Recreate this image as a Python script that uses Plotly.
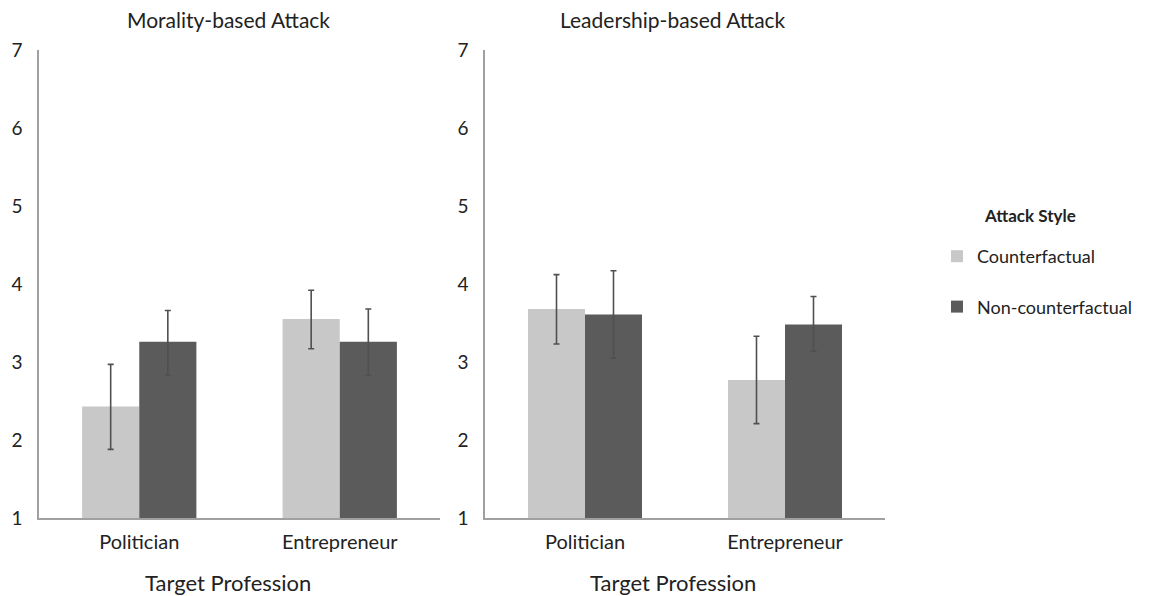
import plotly.graph_objects as go

categories = ["Politician", "Entrepreneur"]
series_names = ["Counterfactual", "Non-counterfactual"]
panel_titles = ["Morality-based Attack", "Leadership-based Attack"]
legend_title = "Attack Style"
x_title = "Target Profession"

# Morality-based Attack
moral_cf = [2.43, 3.55]
moral_cf_plus = [0.54, 0.37]
moral_cf_minus = [0.55, 0.38]
moral_ncf = [3.26, 3.26]
moral_ncf_plus = [0.40, 0.42]
moral_ncf_minus = [0.43, 0.43]

# Leadership-based Attack
lead_cf = [3.68, 2.77]
lead_cf_plus = [0.44, 0.56]
lead_cf_minus = [0.45, 0.56]
lead_ncf = [3.61, 3.48]
lead_ncf_plus = [0.56, 0.36]
lead_ncf_minus = [0.56, 0.34]

y_ticks = [1, 2, 3, 4, 5, 6, 7]

LIGHT = "#c8c8c8"
DARK = "#5b5b5b"
ERR = "#505050"
FONT = "Lato, 'Open Sans', sans-serif"
TXT = "#222222"

fig = go.Figure()

def add_bars(vals, plus, minus, name, color, xa, ya, show):
    fig.add_trace(go.Bar(
        x=categories, y=[v - 1 for v in vals], base=1, name=name,
        marker=dict(color=color, line=dict(width=0)),
        error_y=dict(type="data", array=plus, arrayminus=minus, symmetric=False,
                     color=ERR, thickness=1.6, width=3),
        xaxis=xa, yaxis=ya, showlegend=show, legendgroup=name,
    ))

add_bars(moral_cf, moral_cf_plus, moral_cf_minus, series_names[0], LIGHT, "x", "y", True)
add_bars(moral_ncf, moral_ncf_plus, moral_ncf_minus, series_names[1], DARK, "x", "y", True)
add_bars(lead_cf, lead_cf_plus, lead_cf_minus, series_names[0], LIGHT, "x2", "y2", False)
add_bars(lead_ncf, lead_ncf_plus, lead_ncf_minus, series_names[1], DARK, "x2", "y2", False)

ydom = [1 - 518 / 596, 1 - 50 / 596]
axis_common_y = dict(range=[1, 7], tickvals=y_ticks, showgrid=False, zeroline=False,
                     showline=True, linecolor="#a0a0a0", linewidth=1.5,
                     ticks="", ticklabelstandoff=11, automargin=False,
                     tickfont=dict(family=FONT, size=19, color=TXT), domain=ydom)
axis_common_x = dict(showgrid=False, zeroline=False, showline=True, linecolor="#a0a0a0",
                     linewidth=1.5, ticks="", ticklabelstandoff=5, automargin=False,
                     tickfont=dict(family=FONT, size=20, color=TXT))

fig.update_layout(
    width=1150, height=596,
    margin=dict(l=0, r=0, t=0, b=0, autoexpand=False),
    paper_bgcolor="white", plot_bgcolor="white",
    barmode="group", bargap=0.43, bargroupgap=0,
    xaxis=dict(domain=[39 / 1150, 440 / 1150], anchor="y", **axis_common_x),
    yaxis=dict(anchor="x", **axis_common_y),
    xaxis2=dict(domain=[485 / 1150, 885 / 1150], anchor="y2", **axis_common_x),
    yaxis2=dict(anchor="x2", **axis_common_y),
    legend=dict(
        x=937 / 1150, y=1 - 238 / 596, xanchor="left", yanchor="top",
        font=dict(family=FONT, size=18, color=TXT),
        traceorder="grouped", tracegroupgap=24, bgcolor="rgba(0,0,0,0)",
    ),
    showlegend=True,
)

fig.add_annotation(text="<b>" + legend_title + "</b>", x=1030 / 1150, y=1 - 216 / 596,
                   xref="paper", yref="paper", showarrow=False, xanchor="center",
                   yanchor="middle", font=dict(family=FONT, size=17, color=TXT))

title_x = [228 / 1150, 673 / 1150]
for tx, t in zip(title_x, panel_titles):
    fig.add_annotation(text=t, x=tx, y=1 - 20 / 596, xref="paper", yref="paper",
                       showarrow=False, xanchor="center", yanchor="middle",
                       font=dict(family=FONT, size=21, color=TXT))
    fig.add_annotation(text=x_title, x=tx, y=1 - 582 / 596, xref="paper", yref="paper",
                       showarrow=False, xanchor="center", yanchor="middle",
                       font=dict(family=FONT, size=22, color=TXT))

fig.write_html("out.html")
